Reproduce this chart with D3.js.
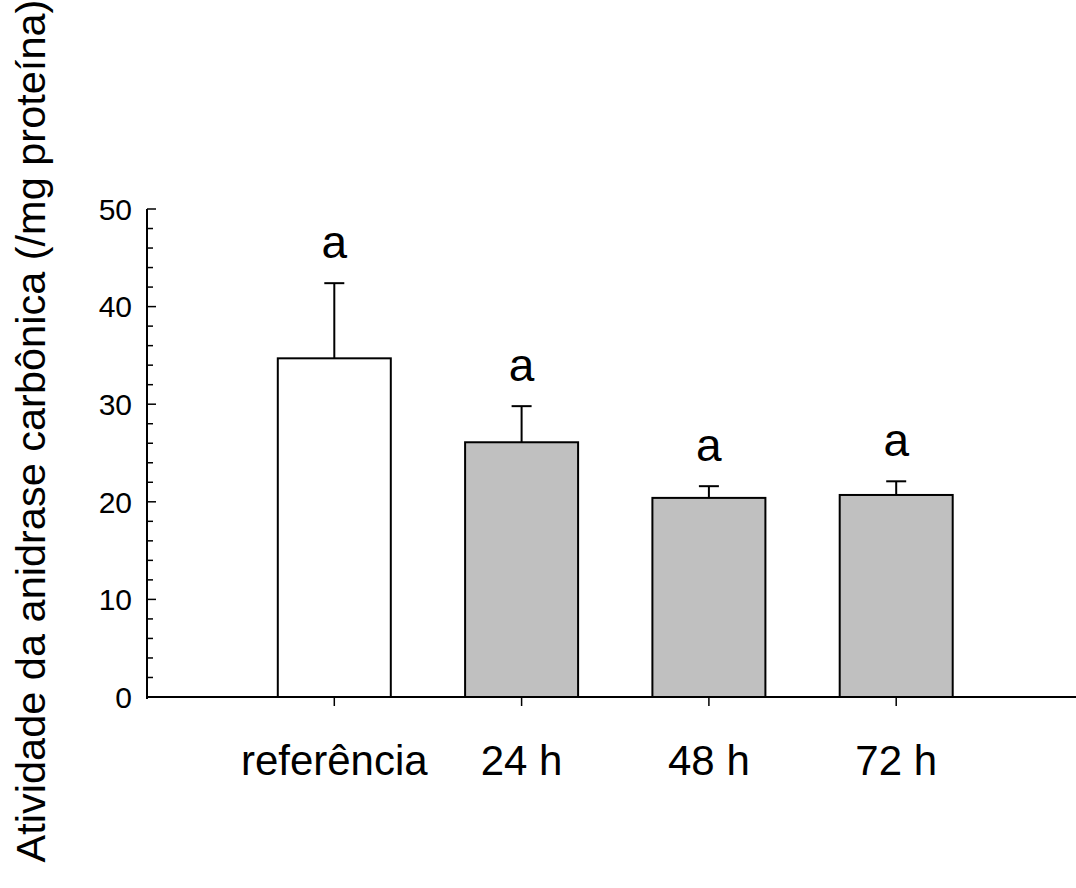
<!DOCTYPE html>
<html lang="pt">
<head>
<meta charset="UTF-8">
<title>Atividade da anidrase carbônica</title>
<style>
    body { margin: 0; background: #fff; }
    svg { display: block; font-family: "Liberation Sans", Arial, sans-serif; }
</style>
</head>
<body>
<svg id="chart" width="1076" height="888"></svg>
<script src="https://d3js.org/d3.v7.min.js"></script>
<script>
    // data
    const categories = ["referência", "24 h", "48 h", "72 h"];
    const means = [34.7, 26.1, 20.4, 20.7];
    const errors = [7.7, 3.7, 1.2, 1.4];
    const letters = ["a", "a", "a", "a"];
    const fills = ["#ffffff", "#c0c0c0", "#c0c0c0", "#c0c0c0"];
    const majorTicks = [0, 10, 20, 30, 40, 50];

    const svg = d3.select("#chart");

    const x0 = 147, y0 = 697, yTop = 209;

    const x = d3.scalePoint()
        .domain(categories)
        .range([x0, x0 + 5 * 187.3])
        .padding(1);

    const y = d3.scaleLinear()
        .domain([0, 50])
        .range([y0, yTop]);

    const barW = 113;

    // bars
    svg.selectAll(".bar")
        .data(categories)
        .enter().append("rect")
        .attr("class", "bar")
        .attr("x", d => x(d) - barW / 2)
        .attr("y", (d, i) => y(means[i]))
        .attr("width", barW)
        .attr("height", (d, i) => y(0) - y(means[i]))
        .attr("fill", (d, i) => fills[i])
        .attr("stroke", "#000")
        .attr("stroke-width", 2);

    // error bars (upper only)
    const err = svg.selectAll(".err")
        .data(categories)
        .enter().append("g")
        .attr("class", "err");

    err.append("line")
        .attr("x1", d => x(d)).attr("x2", d => x(d))
        .attr("y1", (d, i) => y(means[i]))
        .attr("y2", (d, i) => y(means[i] + errors[i]))
        .attr("stroke", "#000").attr("stroke-width", 2);

    err.append("line")
        .attr("x1", d => x(d) - 10).attr("x2", d => x(d) + 10)
        .attr("y1", (d, i) => y(means[i] + errors[i]))
        .attr("y2", (d, i) => y(means[i] + errors[i]))
        .attr("stroke", "#000").attr("stroke-width", 2);

    // significance letters
    svg.selectAll(".letter")
        .data(categories)
        .enter().append("text")
        .attr("class", "letter")
        .attr("x", d => x(d))
        .attr("y", (d, i) => y(means[i] + errors[i]) - 25)
        .attr("text-anchor", "middle")
        .style("font-size", "46px")
        .text((d, i) => letters[i]);

    // y axis: ticks point into the plot
    const yAxis = svg.append("g").attr("transform", `translate(${x0},0)`);
    yAxis.append("line")
        .attr("x1", 0).attr("x2", 0)
        .attr("y1", y(50)).attr("y2", y(0) + 2)
        .attr("stroke", "#000").attr("stroke-width", 2);

    const minorTicks = d3.range(0, 50.01, 2).filter(v => !majorTicks.includes(v));
    yAxis.selectAll(".minor")
        .data(minorTicks)
        .enter().append("line")
        .attr("x1", 0).attr("x2", 6)
        .attr("y1", d => y(d)).attr("y2", d => y(d))
        .attr("stroke", "#000").attr("stroke-width", 1.5);

    yAxis.selectAll(".major")
        .data(majorTicks)
        .enter().append("line")
        .attr("x1", 0).attr("x2", 9)
        .attr("y1", d => y(d)).attr("y2", d => y(d))
        .attr("stroke", "#000").attr("stroke-width", 1.5);

    yAxis.selectAll(".ylab")
        .data(majorTicks)
        .enter().append("text")
        .attr("x", -15)
        .attr("y", d => y(d))
        .attr("dy", "0.36em")
        .attr("text-anchor", "end")
        .style("font-size", "30px")
        .text(d => d);

    // x axis: ticks point down
    const xAxis = svg.append("g");
    xAxis.append("line")
        .attr("x1", x0).attr("x2", 1076)
        .attr("y1", y0).attr("y2", y0)
        .attr("stroke", "#000").attr("stroke-width", 2);

    xAxis.selectAll(".xtick")
        .data(categories)
        .enter().append("line")
        .attr("x1", d => x(d)).attr("x2", d => x(d))
        .attr("y1", y0).attr("y2", y0 + 9)
        .attr("stroke", "#000").attr("stroke-width", 1.5);

    xAxis.selectAll(".xlab")
        .data(categories)
        .enter().append("text")
        .attr("x", d => x(d))
        .attr("y", 775)
        .attr("text-anchor", "middle")
        .style("font-size", "42px")
        .text(d => d);

    // y axis title
    svg.append("text")
        .attr("transform", "translate(45,431) rotate(-90)")
        .attr("text-anchor", "middle")
        .style("font-size", "41.5px")
        .text("Atividade da anidrase carbônica (/mg proteína)");
</script>
</body>
</html>
